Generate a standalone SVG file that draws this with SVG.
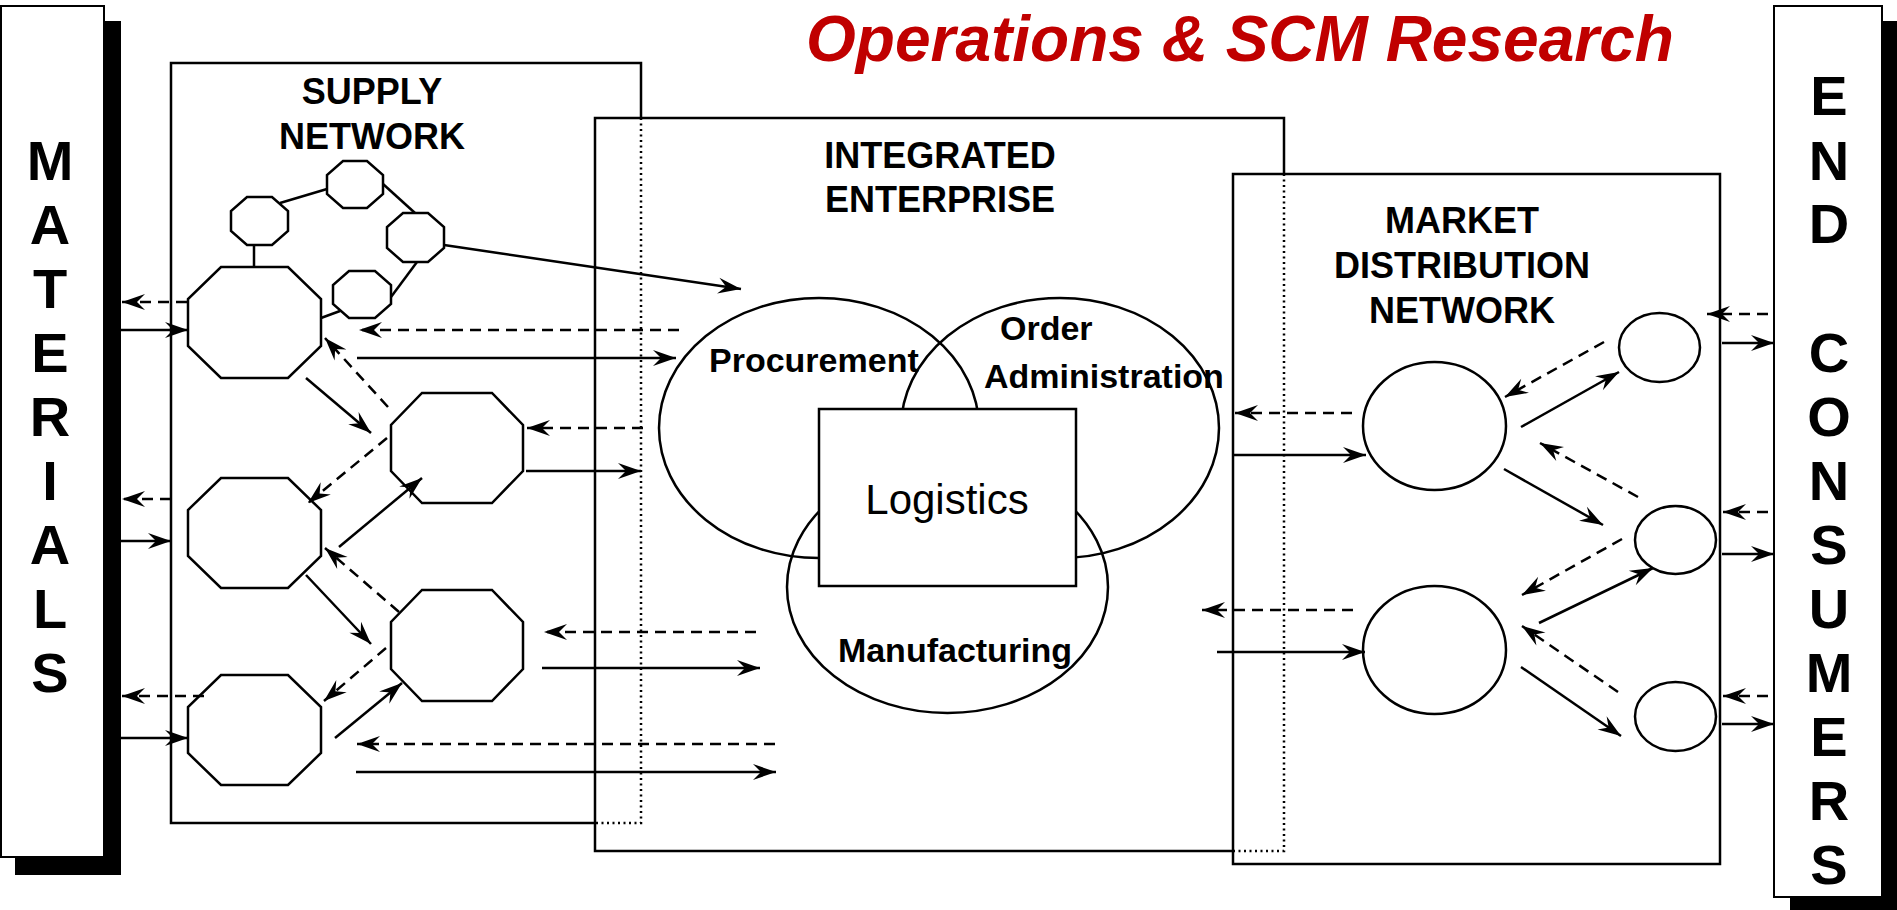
<svg xmlns="http://www.w3.org/2000/svg" width="1897" height="910" viewBox="0 0 1897 910">
  <style>
    .box { fill: none; stroke: #000; stroke-width: 2.5; }
    .dot { fill: none; stroke: #000; stroke-width: 2.5; stroke-dasharray: 2 3.5; }
    .shape { fill: #fff; stroke: #000; stroke-width: 2.5; }
    .ring { fill: none; stroke: #000; stroke-width: 2.5; }
    .link { fill: none; stroke: #000; stroke-width: 2.5; }
    .solid { fill: none; stroke: #000; stroke-width: 2.5; marker-end: url(#ah); }
    .dash { fill: none; stroke: #000; stroke-width: 2.5; stroke-dasharray: 11 7; marker-end: url(#ah); }
    text { font-family: "Liberation Sans", Arial, sans-serif; fill: #000; }
    .big { font-size: 56px; font-weight: bold; text-anchor: middle; }
    .head { font-size: 36px; font-weight: bold; text-anchor: middle; }
    .lbl { font-size: 34px; font-weight: bold; }
  </style>
  <defs>
    <marker id="ah" viewBox="-24 -10 26 20" refX="0" refY="0" markerWidth="26" markerHeight="20" markerUnits="userSpaceOnUse" orient="auto">
      <path d="M0,0 L-23,-8 L-15,0 L-23,8 Z" fill="#000"/>
    </marker>
  </defs>

  <rect width="1897" height="910" fill="#fff"/>

  <!-- title -->
  <text x="806" y="61" font-size="64" font-weight="bold" font-style="italic" fill="#C00000" style="fill:#C00000">Operations &amp; SCM Research</text>

  <!-- MATERIALS column -->
  <g id="materials">
    <rect x="15" y="21" width="106" height="854" fill="#000"/>
    <rect x="1" y="6" width="103" height="851" fill="#fff" stroke="#000" stroke-width="2"/>
    <text class="big" x="50" y="180">M</text>
    <text class="big" x="50" y="244">A</text>
    <text class="big" x="50" y="308">T</text>
    <text class="big" x="50" y="372">E</text>
    <text class="big" x="50" y="436">R</text>
    <text class="big" x="50" y="500">I</text>
    <text class="big" x="50" y="564">A</text>
    <text class="big" x="50" y="628">L</text>
    <text class="big" x="50" y="692">S</text>
  </g>

  <!-- END CONSUMERS column -->
  <g id="end-consumers">
    <rect x="1790" y="21" width="107" height="889" fill="#000"/>
    <rect x="1774" y="6" width="108" height="891" fill="#fff" stroke="#000" stroke-width="2"/>
    <text class="big" x="1829" y="115">E</text>
    <text class="big" x="1829" y="180">N</text>
    <text class="big" x="1829" y="243">D</text>
    <text class="big" x="1829" y="372">C</text>
    <text class="big" x="1829" y="436">O</text>
    <text class="big" x="1829" y="500">N</text>
    <text class="big" x="1829" y="564">S</text>
    <text class="big" x="1829" y="628">U</text>
    <text class="big" x="1829" y="692">M</text>
    <text class="big" x="1829" y="756">E</text>
    <text class="big" x="1829" y="820">R</text>
    <text class="big" x="1829" y="884">S</text>
  </g>

  <!-- supply network frame -->
  <g id="supply-network">
    <path class="box" d="M595,823 H171 V63 H641 V118"/>
    <path class="dot" d="M641,118 V823 H595"/>
    <text class="head" x="372" y="104">SUPPLY</text>
    <text class="head" x="372" y="149">NETWORK</text>
  </g>

  <!-- integrated enterprise frame -->
  <g id="integrated-enterprise">
    <path class="box" d="M1233,851 H595 V118 H1284 V174"/>
    <path class="dot" d="M1284,174 V851 H1233"/>
    <text class="head" x="940" y="168">INTEGRATED</text>
    <text class="head" x="940" y="212">ENTERPRISE</text>
  </g>

  <!-- market distribution frame -->
  <g id="market-network">
    <rect class="box" x="1233" y="174" width="487" height="690"/>
    <text class="head" x="1462" y="233">MARKET</text>
    <text class="head" x="1462" y="278">DISTRIBUTION</text>
    <text class="head" x="1462" y="323">NETWORK</text>
  </g>

  <!-- enterprise functions -->
  <g id="procurement">
    <ellipse class="ring" cx="819" cy="428" rx="160" ry="130"/>
    <text class="lbl" x="709" y="372">Procurement</text>
  </g>
  <g id="order-administration">
    <ellipse class="ring" cx="1060" cy="428" rx="159" ry="130"/>
    <text class="lbl" x="1000" y="340">Order</text>
    <text class="lbl" x="984" y="388">Administration</text>
  </g>
  <g id="manufacturing">
    <ellipse class="ring" cx="947.5" cy="587" rx="160.5" ry="126"/>
    <text class="lbl" x="955" y="662" text-anchor="middle">Manufacturing</text>
  </g>
  <g id="logistics">
    <rect class="shape" x="819" y="409" width="257" height="177"/>
    <text x="947" y="514" font-size="42" text-anchor="middle">Logistics</text>
  </g>

  <!-- supplier nodes -->
  <g id="sup-s1"><polygon class="shape" points="247,197 272,197 288,211 288,231 272,245 247,245 231,231 231,211"/></g>
  <g id="sup-s2"><polygon class="shape" points="343,161 367,161 383,175 383,194 367,208 343,208 327,194 327,175"/></g>
  <g id="sup-s3"><polygon class="shape" points="403,213 428,213 444,227 444,248 428,262 403,262 387,248 387,227"/></g>
  <g id="sup-s4"><polygon class="shape" points="349,271 375,271 391,285 391,304 375,318 349,318 333,304 333,285"/></g>
  <g id="sup-1"><polygon class="shape" points="221,267 288,267 321,299 321,346 288,378 221,378 188,346 188,299"/></g>
  <g id="sup-a"><polygon class="shape" points="422,393 492,393 523,425 523,471 492,503 422,503 391,471 391,425"/></g>
  <g id="sup-b"><polygon class="shape" points="221,478 288,478 321,510 321,556 288,588 221,588 188,556 188,510"/></g>
  <g id="sup-c"><polygon class="shape" points="422,590 492,590 523,622 523,669 492,701 422,701 391,669 391,622"/></g>
  <g id="sup-d"><polygon class="shape" points="221,675 288,675 321,707 321,753 288,785 221,785 188,753 188,707"/></g>

  <!-- distribution nodes -->
  <g id="dist-1"><ellipse class="shape" cx="1434.5" cy="426" rx="71.5" ry="64"/></g>
  <g id="dist-2"><ellipse class="shape" cx="1434.5" cy="650" rx="71.5" ry="64"/></g>
  <g id="retail-1"><ellipse class="shape" cx="1659.5" cy="347.5" rx="40.5" ry="34.5"/></g>
  <g id="retail-2"><ellipse class="shape" cx="1675.5" cy="540" rx="40.5" ry="34"/></g>
  <g id="retail-3"><ellipse class="shape" cx="1675.5" cy="716.5" rx="40.5" ry="34.5"/></g>

  <!-- connectors -->
  <g id="connectors">
    <!-- supplier ring -->
    <line class="link" x1="280" y1="203" x2="327" y2="189"/>
    <line class="link" x1="383" y1="184" x2="415" y2="213"/>
    <line class="link" x1="417" y1="262" x2="391" y2="297"/>
    <line class="link" x1="340" y1="311" x2="321" y2="318"/>
    <line class="link" x1="254" y1="245" x2="254" y2="267"/>
    <line class="solid" x1="444" y1="245" x2="741" y2="289"/>

    <!-- materials exchange -->
    <line class="dash" x1="187" y1="302" x2="122" y2="302"/>
    <line class="solid" x1="121" y1="330" x2="188" y2="330"/>
    <line class="dash" x1="171" y1="499" x2="122" y2="499"/>
    <line class="solid" x1="121" y1="541" x2="171" y2="541"/>
    <line class="dash" x1="204" y1="696" x2="122" y2="696"/>
    <line class="solid" x1="121" y1="738" x2="188" y2="738"/>

    <!-- inside supply network -->
    <line class="solid" x1="306" y1="378" x2="371" y2="433"/>
    <line class="dash" x1="388" y1="407" x2="325" y2="338"/>
    <line class="dash" x1="387" y1="438" x2="308" y2="503"/>
    <line class="solid" x1="339" y1="547" x2="422" y2="478"/>
    <line class="solid" x1="306" y1="575" x2="371" y2="644"/>
    <line class="dash" x1="399" y1="612" x2="325" y2="548"/>
    <line class="dash" x1="386" y1="648" x2="324" y2="701"/>
    <line class="solid" x1="335" y1="738" x2="402" y2="683"/>

    <!-- supply network to enterprise -->
    <line class="dash" x1="679" y1="330" x2="359" y2="330"/>
    <line class="solid" x1="357" y1="358" x2="676" y2="358"/>
    <line class="dash" x1="643" y1="428" x2="527" y2="428"/>
    <line class="solid" x1="526" y1="471" x2="641" y2="471"/>
    <line class="dash" x1="756" y1="632" x2="544" y2="632"/>
    <line class="solid" x1="542" y1="668" x2="760" y2="668"/>
    <line class="dash" x1="775" y1="744" x2="357" y2="744"/>
    <line class="solid" x1="356" y1="772" x2="776" y2="772"/>

    <!-- distribution to enterprise -->
    <line class="dash" x1="1352" y1="413" x2="1235" y2="413"/>
    <line class="solid" x1="1233" y1="455" x2="1366" y2="455"/>
    <line class="dash" x1="1353" y1="610" x2="1202" y2="610"/>
    <line class="solid" x1="1217" y1="652" x2="1365" y2="652"/>

    <!-- inside distribution network -->
    <line class="dash" x1="1604" y1="342" x2="1505" y2="397"/>
    <line class="solid" x1="1521" y1="427" x2="1619" y2="372"/>
    <line class="dash" x1="1638" y1="497" x2="1540" y2="443"/>
    <line class="solid" x1="1504" y1="469" x2="1603" y2="525"/>
    <line class="dash" x1="1622" y1="539" x2="1522" y2="595"/>
    <line class="solid" x1="1539" y1="623" x2="1653" y2="568"/>
    <line class="dash" x1="1618" y1="692" x2="1522" y2="626"/>
    <line class="solid" x1="1521" y1="667" x2="1621" y2="736"/>

    <!-- end consumers exchange -->
    <line class="dash" x1="1768" y1="314" x2="1707" y2="314"/>
    <line class="solid" x1="1722" y1="343" x2="1774" y2="343"/>
    <line class="dash" x1="1768" y1="512" x2="1723" y2="512"/>
    <line class="solid" x1="1722" y1="554" x2="1774" y2="554"/>
    <line class="dash" x1="1768" y1="696" x2="1723" y2="696"/>
    <line class="solid" x1="1722" y1="724" x2="1774" y2="724"/>
  </g>
</svg>
